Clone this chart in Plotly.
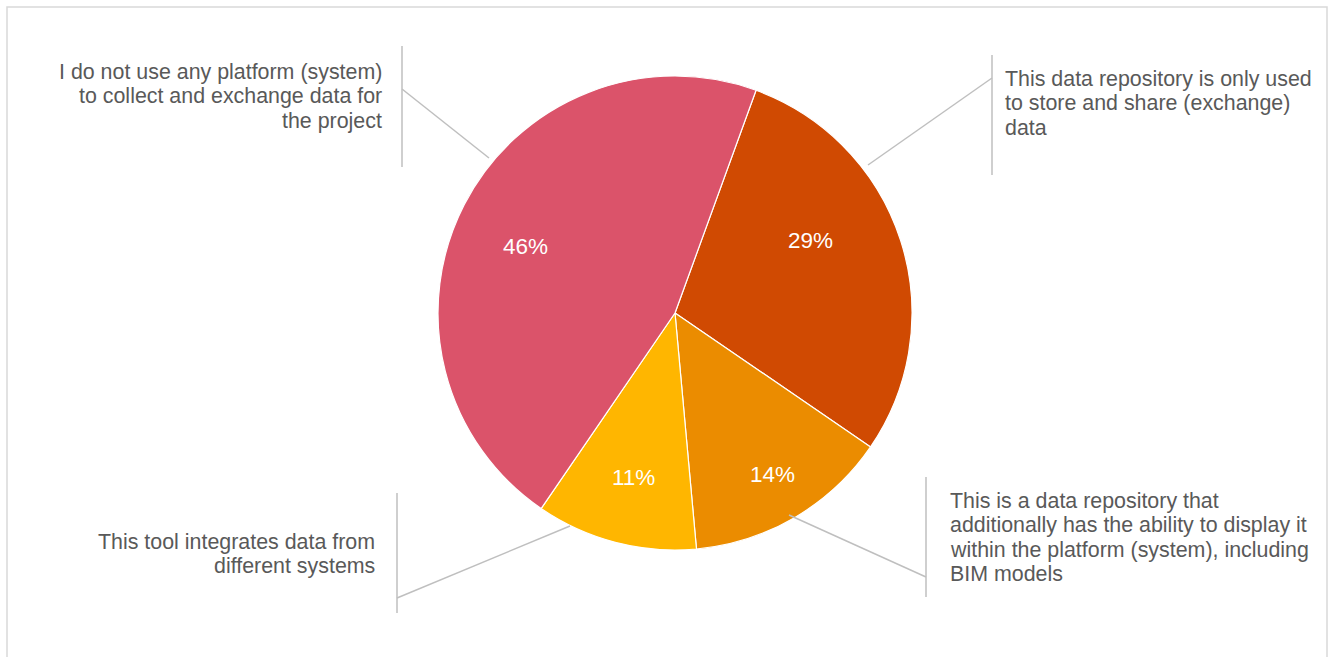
import plotly.graph_objects as go

# ---- data ----
categories = [
    "This data repository is only used to store and share (exchange) data",
    "This is a data repository that additionally has the ability to display it within the platform (system), including BIM models",
    "This tool integrates data from different systems",
    "I do not use any platform (system) to collect and exchange data for the project",
]
values = [29, 14, 11, 46]
colors = ["#D04A02", "#EB8C00", "#FFB600", "#DB536A"]

label_lines = [
    ["This data repository is only used", "to store and share (exchange)", "data"],
    ["This is a data repository that", "additionally has the ability to display it",
     "within the platform (system), including", "BIM models"],
    ["This tool integrates data from", "different systems"],
    ["I do not use any platform (system)", "to collect and exchange data for", "the project"],
]

W, H = 1333, 657

def px(x):
    return x / W

def py(y):
    return 1 - y / H

# label layout (pixel positions): text anchor x, first line y, alignment,
# leader line start/end, vertical bar x, y0, y1, percent label position
label_layout = [
    dict(x=1003, y=79, anchor="left", lead=((868, 165), (992, 78)), bar=(992, 55, 175), pct=(810, 240)),
    dict(x=948, y=501, anchor="left", lead=((789, 515), (926, 577)), bar=(926, 477, 597), pct=(772, 474)),
    dict(x=377, y=542, anchor="right", lead=((570, 526), (397, 598)), bar=(397, 493, 613), pct=(633, 477)),
    dict(x=384, y=72, anchor="right", lead=((489, 158), (402, 89)), bar=(402, 46, 167), pct=(525, 247)),
]
LINE_GAP = 24.3
FONT = "Liberation Sans, Arial, sans-serif"

fig = go.Figure()
fig.add_trace(go.Pie(
    labels=categories,
    values=values,
    marker=dict(colors=colors, line=dict(color="#FFFFFF", width=1.2)),
    sort=False,
    direction="clockwise",
    rotation=20,
    textinfo="none",
    hoverinfo="skip",
    showlegend=False,
    domain=dict(x=[px(438), px(912)], y=[py(550), py(76)]),
))

total = sum(values)
annotations = []
shapes = []
for v, lines, lay in zip(values, label_lines, label_layout):
    # percentage label
    annotations.append(dict(
        text=f"{round(100 * v / total)}%", xref="paper", yref="paper",
        x=px(lay["pct"][0]), y=py(lay["pct"][1]),
        xanchor="center", yanchor="middle", showarrow=False,
        font=dict(family=FONT, size=22.5, color="#FFFFFF"),
    ))
    for i, t in enumerate(lines):
        annotations.append(dict(
            text=t, xref="paper", yref="paper",
            x=px(lay["x"]), y=py(lay["y"] + i * LINE_GAP),
            xanchor=lay["anchor"], yanchor="middle", align=lay["anchor"],
            showarrow=False,
            font=dict(family=FONT, size=21.4, color="#595959"),
        ))
    (x0, y0), (x1, y1) = lay["lead"]
    shapes.append(dict(type="line", xref="paper", yref="paper",
                       x0=px(x0), y0=py(y0), x1=px(x1), y1=py(y1),
                       line=dict(color="#BFBFBF", width=1.5)))
    bx, by0, by1 = lay["bar"]
    shapes.append(dict(type="line", xref="paper", yref="paper",
                       x0=px(bx), y0=py(by0), x1=px(bx), y1=py(by1),
                       line=dict(color="#BFBFBF", width=1.5)))

# outer frame
shapes.append(dict(type="rect", xref="paper", yref="paper",
                   x0=px(7), x1=px(1327), y0=py(680), y1=py(7),
                   line=dict(color="#D9D9D9", width=1.5), fillcolor="rgba(0,0,0,0)",
                   layer="below"))

fig.update_layout(
    width=W, height=H,
    margin=dict(l=0, r=0, t=0, b=0),
    paper_bgcolor="#FFFFFF",
    plot_bgcolor="#FFFFFF",
    annotations=annotations,
    shapes=shapes,
)

fig.write_html("out.html",
               config={"displayModeBar": False},
               post_script="document.body.style.margin='0';document.body.style.overflow='hidden';")
